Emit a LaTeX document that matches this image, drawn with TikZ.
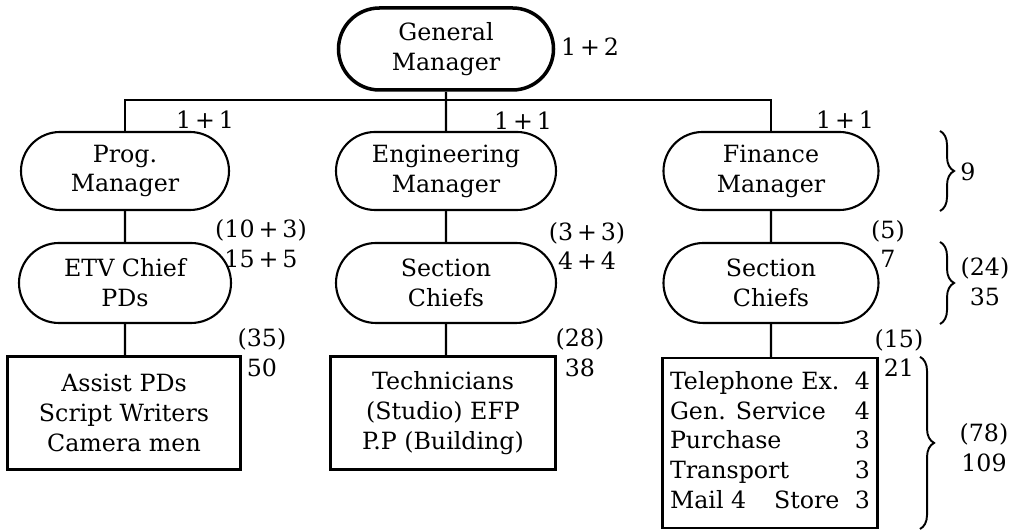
\documentclass[tikz,border=0pt]{standalone}
\usepackage{fontspec}
\setmainfont{DejaVu Serif}
\usepackage{tikz}
\usetikzlibrary{shapes.misc, decorations.pathreplacing, calc}

\begin{document}
\begin{tikzpicture}[x=0.2mm, y=-0.2mm,
    every node/.style={font=\fontsize{13.5}{17}\selectfont},
    pill/.style={draw, rounded rectangle, line width=1.2pt, align=center, inner sep=0pt},
    post/.style={draw, rectangle, line width=1.3pt, align=center, inner sep=0pt},
    tally/.style={align=center, inner sep=0pt},
    link/.style={line width=1.3pt},
    curly/.style={line width=1.1pt, decorate, decoration={brace, amplitude=8pt}}]
\useasboundingbox (0,0) rectangle (1011,531);

% top
\node[pill, line width=2pt, minimum width=43mm, minimum height=16.4mm] (gm) at (446,49) {General\\Manager};
\node[tally] (gm-n) at (590,47) {1\,+\,2};

% managers
\node[pill, minimum width=41.6mm, minimum height=15.6mm] (pm) at (125,171) {Prog.\\Manager};
\node[pill, minimum width=44mm, minimum height=15.6mm] (em) at (446,171) {Engineering\\Manager};
\node[pill, minimum width=43mm, minimum height=15.6mm] (fm) at (771,171) {Finance\\Manager};
\node[tally] (pm-n) at (205,120) {1\,+\,1};
\node[tally] (em-n) at (523,121) {1\,+\,1};
\node[tally] (fm-n) at (845,120) {1\,+\,1};

% chiefs
\node[pill, minimum width=42.4mm, minimum height=16mm] (etv) at (125,283) {ETV Chief\\PDs};
\node[pill, minimum width=44mm, minimum height=16mm] (esc) at (446,283) {Section\\Chiefs};
\node[pill, minimum width=43mm, minimum height=16mm] (fsc) at (771,283) {Section\\Chiefs};
\node[tally] (etv-n) at (261,244) {(10\,+\,3)\\15\,+\,5};
\node[tally] (esc-n) at (587,246) {(3\,+\,3)\\4\,+\,4};
\node[tally] (fsc-n) at (888,244) {(5)\\7};

% staff
\node[post, minimum width=46.6mm, minimum height=22.6mm] (ast) at (124,413) {Assist PDs\\Script Writers\\Camera men};
\node[post, minimum width=45mm, minimum height=22.6mm] (tec) at (443,413) {Technicians\\(Studio) EFP\\P.P (Building)};
\node[post, minimum width=43mm, minimum height=34mm] (fin) at (770,443) {%
    \begin{tabular*}{40mm}{@{}l@{\extracolsep{\fill}}r@{}}
    Telephone Ex. & 4 \\
    Gen. Service & 4 \\
    Purchase & 3 \\
    Transport & 3 \\
    Mail 4\hfill Store & 3 \\
    \end{tabular*}};
\node[tally] (ast-n) at (262,353) {(35)\\50};
\node[tally] (tec-n) at (580,353) {(28)\\38};
\node[tally] (fin-n) at (899,353) {(15)\\21};

% connectors
\coordinate (bus) at (446,100);
\draw[link] (gm) -- (em);
\draw[link] (pm.north) |- (bus) -| (fm.north);
\draw[link] (pm) -- (etv);
\draw[link] (em) -- (esc);
\draw[link] (fm) -- (fsc);
\draw[link] (etv) -- (ast.north -| etv.south);
\draw[link] (esc) -- (tec.north -| esc.south);
\draw[link] (fsc) -- (fin.north -| fsc.south);

% braces
\coordinate (brx) at (940,0);
\coordinate (bigx) at (920,0);
\coordinate (bigend) at (920,529);
\draw[curly] (brx |- fm.north) -- (brx |- fm.south);
\draw[curly] (brx |- fsc.north) -- (brx |- fsc.south);
\draw[curly] (bigx |- fin.north) -- (bigend);
\node[tally] (tot-m) at (968,172) {9};
\node[tally] (tot-c) at (985,282) {(24)\\35};
\node[tally] (tot-s) at (984,448) {(78)\\109};
\end{tikzpicture}
\end{document}
